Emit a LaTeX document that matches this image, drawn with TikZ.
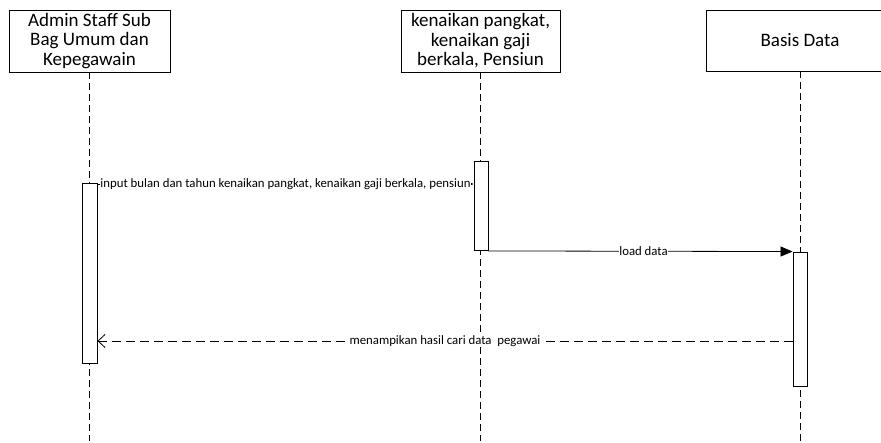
\documentclass[tikz,border=0pt]{standalone}
\usepackage{fontspec}
\setmainfont{Carlito}
\usetikzlibrary{arrows.meta,calc}
\begin{document}
\begin{tikzpicture}[x=1pt,y=-1pt,
  actor/.style={draw,line width=0.9pt,fill=white,align=center,inner sep=0pt,
    font=\fontsize{19}{19.5}\selectfont},
  lifeline/.style={line width=0.9pt,dash pattern=on 7pt off 4pt},
  activation/.style={draw,line width=0.9pt,fill=white,minimum width=14pt,inner sep=0pt},
  msg/.style={line width=0.8pt},
  reply/.style={line width=0.8pt,dash pattern=on 9pt off 5pt},
  msglabel/.style={fill=white,inner sep=0.5pt,font=\fontsize{12.8}{13}\selectfont}]
\useasboundingbox (0,0) rectangle (881,443);

% participants
\node[actor,minimum width=161pt,minimum height=62pt] (admin) at (89.5,41)
  {Admin Staff Sub\\Bag Umum dan\\Kepegawain};
\node[actor,minimum width=159pt,minimum height=62pt] (kgp) at (480.5,41)
  {kenaikan pangkat,\\kenaikan gaji\\berkala, Pensiun};
\node[actor,minimum width=188pt,minimum height=61pt] (db) at (800,40.5) {Basis Data};

% lifeline ends
\coordinate (adminEnd) at (admin.south |- 0,441);
\coordinate (kgpEnd) at (kgp.south |- 0,441);
\coordinate (dbEnd) at (db.south |- 0,441);
\draw[lifeline] (admin.south) -- (adminEnd);
\draw[lifeline] (kgp.south) -- (kgpEnd);
\draw[lifeline] (db.south) -- (dbEnd);

% activation bars
\node[activation,minimum width=15pt,minimum height=180pt] (actAdmin) at (89.5,273) {};
\node[activation,minimum height=89pt] (actKgp) at (481,206) {};
\node[activation,minimum height=134pt] (actDb) at (800,319) {};

% messages
\draw[msg,-{Triangle[length=4pt,width=3.5pt]}] (actAdmin.east |- 0,184) -- (actKgp.west |- 0,184)
  node[midway,msglabel] {input bulan dan tahun kenaikan pangkat, kenaikan gaji berkala, pensiun};
\draw[msg,-{Triangle[length=12pt,width=10pt]}] (actKgp.south east) -- (actDb.north west)
  node[pos=0.51,msglabel] {load data};
\draw[reply,-{Straight Barb[length=7pt,width=13pt]}] (actDb.west |- 0,341) -- (actAdmin.east |- 0,341)
  node[pos=0.5,msglabel] {menampikan hasil cari data\ \ pegawai};
\end{tikzpicture}
\end{document}
